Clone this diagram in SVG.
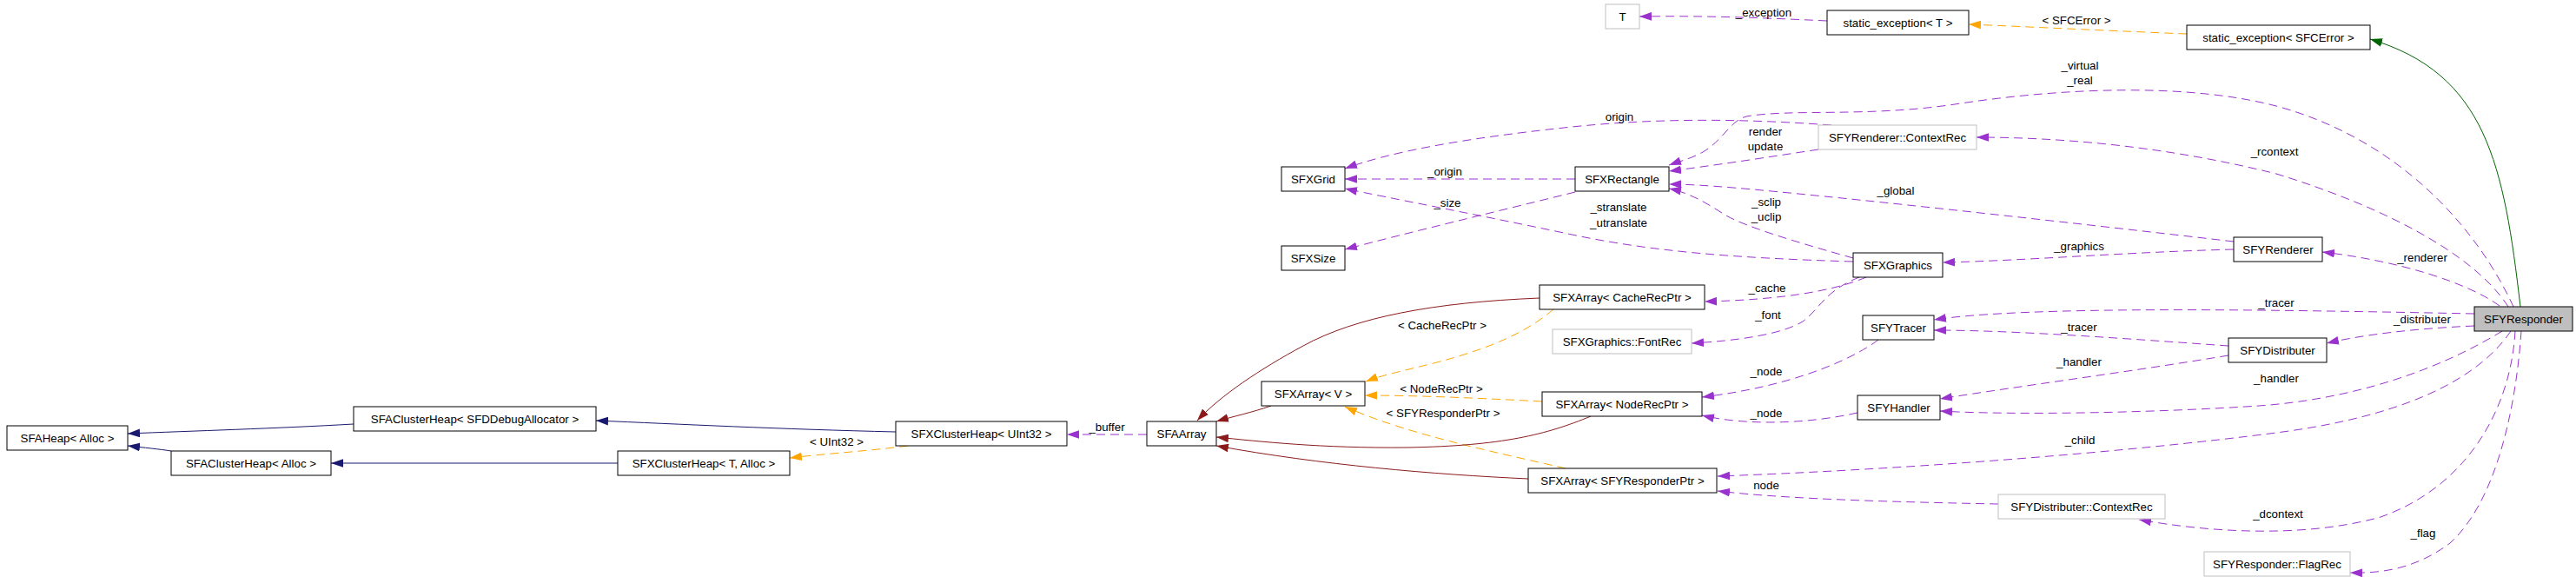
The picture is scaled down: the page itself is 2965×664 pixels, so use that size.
<svg xmlns="http://www.w3.org/2000/svg" width="2965" height="664" viewBox="0 0 2965 664">
<style>
text{font-family:"Liberation Sans",Arial,sans-serif;font-size:13.3px;fill:#000;text-anchor:middle}
.n rect{fill:#fff;stroke:#000;stroke-width:1}
.g rect{fill:#fff;stroke:#bfbfbf;stroke-width:1}
.f rect{fill:#bfbfbf;stroke:#000;stroke-width:1}
.e path{fill:none;stroke-width:1}
.p{stroke:#9a32cd;stroke-dasharray:10,6;marker-end:url(#ap)}
.o{stroke:#ffa500;stroke-dasharray:10,6;marker-end:url(#ao)}
.b{stroke:#191970;marker-end:url(#ab)}
.r{stroke:#8b1a1a;marker-end:url(#ar)}
.gr{stroke:#006400;marker-end:url(#ag)}
</style>
<defs>
<marker id="ap" markerUnits="userSpaceOnUse" markerWidth="14" markerHeight="10" viewBox="0 0 13 9" refX="13" refY="4.5" orient="auto"><path d="M0,0 L13,4.5 L0,9 z" fill="#9a32cd"/></marker>
<marker id="ao" markerUnits="userSpaceOnUse" markerWidth="14" markerHeight="10" viewBox="0 0 13 9" refX="13" refY="4.5" orient="auto"><path d="M0,0 L13,4.5 L0,9 z" fill="#ffa500"/></marker>
<marker id="ab" markerUnits="userSpaceOnUse" markerWidth="14" markerHeight="10" viewBox="0 0 13 9" refX="13" refY="4.5" orient="auto"><path d="M0,0 L13,4.5 L0,9 z" fill="#191970"/></marker>
<marker id="ar" markerUnits="userSpaceOnUse" markerWidth="14" markerHeight="10" viewBox="0 0 13 9" refX="13" refY="4.5" orient="auto"><path d="M0,0 L13,4.5 L0,9 z" fill="#8b1a1a"/></marker>
<marker id="ag" markerUnits="userSpaceOnUse" markerWidth="14" markerHeight="10" viewBox="0 0 13 9" refX="13" refY="4.5" orient="auto"><path d="M0,0 L13,4.5 L0,9 z" fill="#006400"/></marker>
</defs>
<rect width="2965" height="664" fill="#fff"/>
<g id="edges" class="e">
<path class="p" d="M2103,24 C2020,20 1960,18 1887,19"/>
<path class="o" d="M2517,39 C2440,36 2340,31 2266,28"/>
<path class="gr" d="M2901,353 C2882,190 2862,85 2728,45"/>
<path class="p" d="M2108,144 C2000,136 1900,136 1800,147 C1680,160 1600,175 1548,194"/>
<path class="p" d="M2893,353 C2850,260 2760,160 2620,122 C2520,96 2380,100 2250,120 C2150,135 2060,125 2010,134 C1990,140 1985,160 1960,175 C1945,183 1935,185 1921,190"/>
<path class="p" d="M2093,172 C2040,180 1990,188 1921,197"/>
<path class="p" d="M2571,278 C2400,258 2200,236 2100,226 C2020,218 1960,212 1921,212"/>
<path class="p" d="M2133,297 C2080,282 2010,262 1985,247 C1965,234 1945,222 1921,217"/>
<path class="p" d="M2133,301 C2000,297 1900,290 1800,268 C1680,243 1600,228 1548,217"/>
<path class="p" d="M1813,206 L1548,206"/>
<path class="p" d="M1813,221 C1720,244 1620,268 1548,287"/>
<path class="p" d="M2571,287 C2450,290 2330,300 2236,302"/>
<path class="p" d="M2877,352 C2840,325 2760,300 2673,290"/>
<path class="p" d="M2887,353 C2850,295 2750,240 2620,200 C2500,170 2380,158 2275,158"/>
<path class="p" d="M2148,319 C2110,335 2050,345 1962,347"/>
<path class="p" d="M2140,319 C2100,335 2095,355 2075,370 C2050,385 2000,392 1947,395"/>
<path class="p" d="M2848,361 C2600,356 2330,352 2226,368"/>
<path class="p" d="M2848,375 C2780,378 2720,385 2678,395"/>
<path class="p" d="M2565,398 C2450,390 2320,380 2226,380"/>
<path class="p" d="M2565,409 C2450,428 2320,445 2233,459"/>
<path class="p" d="M2162,391 C2130,415 2060,445 1959,457"/>
<path class="p" d="M2880,381 C2800,430 2700,460 2600,467 C2480,475 2320,478 2233,473"/>
<path class="p" d="M2138,475 C2080,488 2010,490 1959,478"/>
<path class="p" d="M2890,381 C2850,440 2760,480 2620,498 C2450,520 2200,540 1977,548"/>
<path class="p" d="M2300,580 C2200,578 2060,575 1977,565"/>
<path class="p" d="M2895,381 C2890,470 2840,560 2740,595 C2650,620 2540,612 2462,598"/>
<path class="p" d="M2902,381 C2895,480 2870,580 2820,625 C2780,655 2740,660 2705,659"/>
<path class="o" d="M1788,356 C1760,380 1720,400 1650,418 C1610,428 1590,432 1572,439"/>
<path class="o" d="M1775,462 C1700,458 1630,455 1571,455"/>
<path class="o" d="M1802,539 C1720,520 1620,500 1548,468"/>
<path class="r" d="M1463,467 C1440,475 1420,479 1400,485"/>
<path class="r" d="M1772,343 C1650,348 1560,365 1500,398 C1450,425 1405,455 1378,484"/>
<path class="r" d="M1831,479 C1780,500 1730,513 1620,515 C1520,516 1450,508 1400,503"/>
<path class="r" d="M1759,551 C1650,546 1520,535 1400,513"/>
<path class="b" d="M1031,497 C900,494 780,488 686,484"/>
<path class="o" d="M1045,513 C1000,519 950,522 909,527"/>
<path class="p" d="M1320,500 L1228,500"/>
<path class="b" d="M407,488 C320,493 220,496 147,499"/>
<path class="b" d="M197,519 C185,517 165,515 147,513"/>
<path class="b" d="M711,533 L381,533"/>
<text x="2030" y="19">_exception</text>
<text x="2390" y="28">&lt; SFCError &gt;</text>
<text x="2394" y="80">_virtual</text>
<text x="2394" y="97">_real</text>
<text x="1864" y="139">origin</text>
<text x="2032" y="156">render</text>
<text x="2032" y="173">update</text>
<text x="2618" y="179">_rcontext</text>
<text x="1663" y="202">_origin</text>
<text x="2182" y="224">_global</text>
<text x="1666" y="238">_size</text>
<text x="2033" y="237">_sclip</text>
<text x="2033" y="254">_uclip</text>
<text x="1863" y="243">_stranslate</text>
<text x="1863" y="261">_utranslate</text>
<text x="2393" y="288">_graphics</text>
<text x="2788" y="301">_renderer</text>
<text x="2034" y="336">_cache</text>
<text x="2620" y="353">_tracer</text>
<text x="2035" y="367">_font</text>
<text x="2788" y="372">_distributer</text>
<text x="1660" y="379">&lt; CacheRecPtr &gt;</text>
<text x="2393" y="381">_tracer</text>
<text x="2393" y="421">_handler</text>
<text x="2033" y="432">_node</text>
<text x="2620" y="440">_handler</text>
<text x="1659" y="452">&lt; NodeRecPtr &gt;</text>
<text x="2033" y="480">_node</text>
<text x="1661" y="480">&lt; SFYResponderPtr &gt;</text>
<text x="1274" y="496">_buffer</text>
<text x="2394" y="511">_child</text>
<text x="963" y="513">&lt; UInt32 &gt;</text>
<text x="2033" y="563">node</text>
<text x="2622" y="596">_dcontext</text>
<text x="2789" y="618">_flag</text>
</g>
<g id="T" class="g"><rect x="1848" y="5" width="39" height="28"/><text x="1867.5" y="24">T</text></g>
<g id="static_exception_T" class="n"><rect x="2103" y="12" width="163" height="28"/><text x="2184.5" y="31">static_exception&lt; T &gt;</text></g>
<g id="static_exception_SFCError" class="n"><rect x="2517" y="29" width="211" height="28"/><text x="2622.5" y="48">static_exception&lt; SFCError &gt;</text></g>
<g id="SFYRenderer_ContextRec" class="g"><rect x="2093" y="144" width="182" height="28"/><text x="2184" y="163">SFYRenderer::ContextRec</text></g>
<g id="SFXGrid" class="n"><rect x="1475" y="192" width="73" height="28"/><text x="1511.5" y="211">SFXGrid</text></g>
<g id="SFXRectangle" class="n"><rect x="1813" y="192" width="108" height="28"/><text x="1867" y="211">SFXRectangle</text></g>
<g id="SFXSize" class="n"><rect x="1475" y="283" width="73" height="28"/><text x="1511.5" y="302">SFXSize</text></g>
<g id="SFYRenderer" class="n"><rect x="2571" y="273" width="102" height="28"/><text x="2622" y="292">SFYRenderer</text></g>
<g id="SFXGraphics" class="n"><rect x="2133" y="291" width="103" height="28"/><text x="2184.5" y="310">SFXGraphics</text></g>
<g id="SFXArray_CacheRecPtr" class="n"><rect x="1772" y="328" width="190" height="28"/><text x="1867" y="347">SFXArray&lt; CacheRecPtr &gt;</text></g>
<g id="SFXGraphics_FontRec" class="g"><rect x="1787" y="379" width="160" height="28"/><text x="1867" y="398">SFXGraphics::FontRec</text></g>
<g id="SFXArray_V" class="n"><rect x="1452" y="439" width="119" height="28"/><text x="1511.5" y="458">SFXArray&lt; V &gt;</text></g>
<g id="SFXArray_NodeRecPtr" class="n"><rect x="1775" y="451" width="184" height="28"/><text x="1867" y="470">SFXArray&lt; NodeRecPtr &gt;</text></g>
<g id="SFAArray" class="n"><rect x="1320" y="485" width="80" height="28"/><text x="1360" y="504">SFAArray</text></g>
<g id="SFXArray_SFYResponderPtr" class="n"><rect x="1759" y="539" width="217" height="28"/><text x="1867.5" y="558">SFXArray&lt; SFYResponderPtr &gt;</text></g>
<g id="SFYTracer" class="n"><rect x="2144" y="363" width="82" height="28"/><text x="2185" y="382">SFYTracer</text></g>
<g id="SFYHandler" class="n"><rect x="2138" y="455" width="95" height="28"/><text x="2185.5" y="474">SFYHandler</text></g>
<g id="SFYDistributer" class="n"><rect x="2565" y="389" width="113" height="28"/><text x="2621.5" y="408">SFYDistributer</text></g>
<g id="SFYDistributer_ContextRec" class="g"><rect x="2300" y="569" width="192" height="28"/><text x="2396" y="588">SFYDistributer::ContextRec</text></g>
<g id="SFYResponder_FlagRec" class="g"><rect x="2537" y="635" width="168" height="28"/><text x="2621" y="654">SFYResponder::FlagRec</text></g>
<g id="SFYResponder" class="f"><rect x="2848" y="353" width="113" height="28"/><text x="2904.5" y="372">SFYResponder</text></g>
<g id="SFXClusterHeap_UInt32" class="n"><rect x="1031" y="485" width="197" height="28"/><text x="1129.5" y="504">SFXClusterHeap&lt; UInt32 &gt;</text></g>
<g id="SFAHeap_Alloc" class="n"><rect x="8" y="490" width="139" height="28"/><text x="77.5" y="509">SFAHeap&lt; Alloc &gt;</text></g>
<g id="SFAClusterHeap_SFDDebugAllocator" class="n"><rect x="407" y="468" width="279" height="28"/><text x="546.5" y="487">SFAClusterHeap&lt; SFDDebugAllocator &gt;</text></g>
<g id="SFAClusterHeap_Alloc" class="n"><rect x="197" y="519" width="184" height="28"/><text x="289" y="538">SFAClusterHeap&lt; Alloc &gt;</text></g>
<g id="SFXClusterHeap_T_Alloc" class="n"><rect x="711" y="519" width="198" height="28"/><text x="810" y="538">SFXClusterHeap&lt; T, Alloc &gt;</text></g>
</svg>
